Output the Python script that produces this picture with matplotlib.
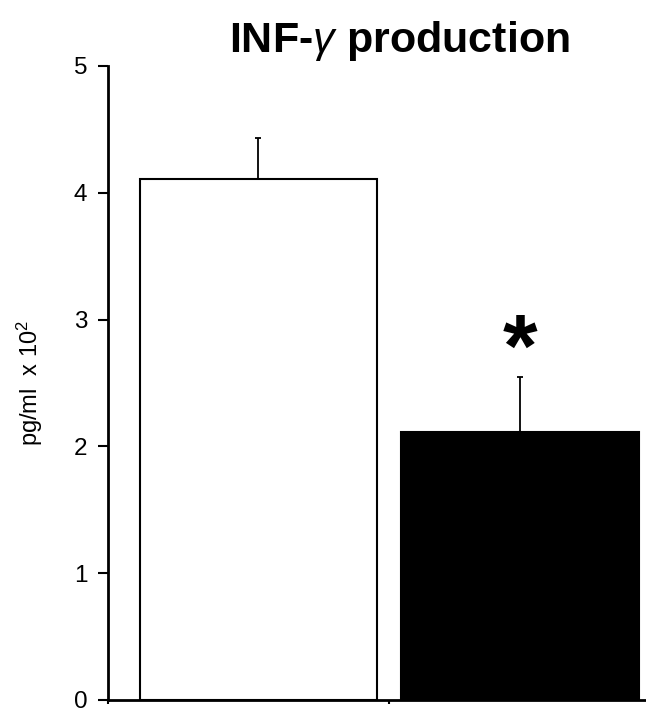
import matplotlib
matplotlib.use("Agg")
import matplotlib.pyplot as plt
from matplotlib import font_manager as fm

# Data
categories = ["Control", "Treated"]
values = [4.11, 2.11]
errors = [0.32, 0.44]
bar_colors = ["white", "black"]
yticks = [0, 1, 2, 3, 4, 5]

plt.rcParams['font.family'] = ['Liberation Sans', 'DejaVu Sans']
plt.rcParams['mathtext.fontset'] = 'custom'
plt.rcParams['mathtext.rm'] = 'Liberation Sans'
plt.rcParams['mathtext.it'] = 'Liberation Sans:italic'
plt.rcParams['mathtext.bf'] = 'Liberation Sans:bold'

names = {f.name for f in fm.fontManager.ttflist}
if 'Liberation Sans Narrow' in names:
    title_family, title_size = 'Liberation Sans Narrow', 38
else:
    title_family, title_size = 'Liberation Sans', 31

fig = plt.figure(figsize=(6.46, 7.15), dpi=100)
ax = fig.add_axes([108/646, 15/715, 1 - 108/646, (700-66)/715])

x = list(range(len(categories)))
ax.bar(x, values, width=0.91, color=bar_colors, edgecolor='black', linewidth=1.5, zorder=2)
ax.errorbar(x, values, yerr=[[0]*len(errors), errors], fmt='none', ecolor='black',
            elinewidth=1.3, capsize=2.5, capthick=1.3, zorder=1)

ax.set_ylim(0, 5)
ax.set_xlim(-0.5755, 1.482)
ax.set_yticks(yticks)
ax.set_yticklabels([str(t) for t in yticks], fontsize=17.5)
ax.set_xticks([-0.5755, 0.5])
ax.set_xticklabels([])
ax.tick_params(axis='y', direction='out', length=7, width=1.5, pad=8)
ax.tick_params(axis='x', direction='out', length=3, width=1.5)
for s in ['top', 'right']:
    ax.spines[s].set_visible(False)
for s in ['left', 'bottom']:
    ax.spines[s].set_linewidth(2)
ax.patch.set_alpha(0)

ax.text(1, values[1] + errors[1] - 0.14, '*', ha='center', va='bottom',
        fontsize=64, fontweight='bold')

fig.text(399/646, (715-52)/715, r"INF-$\gamma$ production", ha='center', va='baseline',
         fontsize=title_size, fontweight='bold', family=title_family)
fig.text(30/646, (715-383)/715, r"pg/ml  x 10$^{\mathregular{2}}$", rotation=90,
         ha='center', va='center', fontsize=17)

fig.savefig("out.png", dpi=100)
